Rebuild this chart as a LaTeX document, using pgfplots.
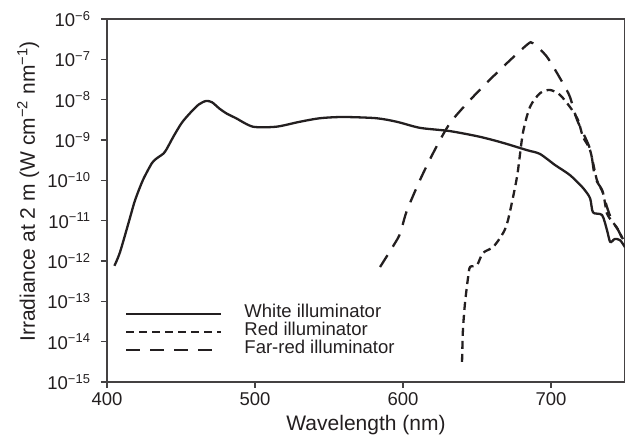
\documentclass[border=0pt]{standalone}
\usepackage{fontspec}
\setmainfont{Liberation Sans}
\usepackage{pgfplots}
\pgfplotsset{compat=1.18}
\definecolor{ink}{HTML}{231F20}

\begin{document}
\begin{tikzpicture}
\begin{axis}[
    at={(0pt,0pt)}, anchor=south west,
    scale only axis, width=518pt, height=363pt,
    xmin=400, xmax=750,
    ymode=log, ymin=1e-15, ymax=1e-6,
    xtick={400,500,600,700}, xticklabels={400,500,600,700},
    ytick={1e-15,1e-14,1e-13,1e-12,1e-11,1e-10,1e-9,1e-8,1e-7,1e-6},
    yticklabels={10\textsuperscript{−15},10\textsuperscript{−14},10\textsuperscript{−13},10\textsuperscript{−12},10\textsuperscript{−11},10\textsuperscript{−10},10\textsuperscript{−9},10\textsuperscript{−8},10\textsuperscript{−7},10\textsuperscript{−6}},
    yminorticks=false,
    tick align=outside, xtick pos=left, ytick pos=left,
    major tick length=6pt,
    axis line style={ink!85, line width=1.4pt},
    major tick style={ink!85, line width=1.2pt},
    tick label style={font=\fontsize{18.5}{18.5}\selectfont, text=ink},
    yticklabel style={xshift=-7pt},
    xticklabel style={yshift=-1.5pt},
    label style={font=\fontsize{21}{21}\selectfont, text=ink},
    xlabel={Wavelength (nm)},
    ylabel={Irradiance at 2 m (W cm\textsuperscript{−2} nm\textsuperscript{−1})},
    xlabel style={at={(axis description cs:0.5,-0.118)}, anchor=center},
    ylabel style={at={(axis description cs:-0.152,0.525)}, anchor=center},
    legend cell align=left,
    legend style={at={(rel axis cs:0.0347,0.138)}, anchor=west, draw=none, fill=none,
        inner sep=0pt, column sep=22pt, row sep=0pt,
        nodes={inner sep=0pt, text height=13pt, text depth=5pt,
            font=\fontsize{18.5}{18.5}\selectfont, text=ink}},
    legend image code/.code={\draw[#1] (0pt,0pt) -- (95pt,0pt);},
]
% white illuminator
\addplot[ink, line width=2.3pt, line join=round, smooth, tension=0.45] coordinates {
    (405,7.6e-13) (408.8,1.66e-12) (415.5,1.17e-11) (419,3.24e-11)
    (424.3,1.02e-10) (430.4,2.69e-10) (433.8,3.55e-10) (439,5.0e-10)
    (444.8,1.2e-9) (450.4,2.63e-9) (456,4.6e-9) (462,7.6e-9)
    (467,9.3e-9) (471,8.6e-9) (476,6.0e-9) (481,4.5e-9)
    (487,3.5e-9) (498.6,2.14e-9)
    (514.5,2.14e-9) (530,2.82e-9) (544,3.47e-9) (559.5,3.72e-9)
    (582,3.47e-9) (596,2.82e-9) (611.5,2.0e-9) (631.8,1.66e-9)
    (652,1.2e-9) (667.6,8.5e-10) (683.8,5.6e-10) (692.6,4.5e-10)
    (702.7,2.4e-10) (712.8,1.35e-10) (721.6,6.5e-11) (726.4,3.6e-11)
    (728.4,1.6e-11) (734.5,1.38e-11) (737.8,5.9e-12) (740,2.95e-12)
    (743,3.5e-12) (746.6,3.3e-12) (750,2.2e-12)
};
\addlegendentry{White illuminator}
% red illuminator
\addplot[ink, line width=2.3pt, dash pattern=on 8pt off 5pt, smooth, tension=0.45] coordinates {
    (639.9,3.16e-15) (640.5,1.95e-14) (641.9,9.1e-14) (644,4.0e-13)
    (645.3,7.1e-13) (650,7.9e-13) (654,1.58e-12) (661,2.24e-12)
    (667.6,4.9e-12) (671,1.05e-11) (677,1.2e-10) (681,1.48e-9)
    (685.8,6.6e-9) (692.6,1.45e-8) (699.3,1.74e-8) (706,1.32e-8)
    (712.8,6.6e-9) (718.2,3.16e-9) (721.6,1.2e-9) (726.4,5.6e-10)
    (731,1.02e-10) (735.2,4.8e-11) (737.8,1.5e-11) (741,1.0e-11)
    (745,6.3e-12) (748.6,3.5e-12)
};
\addlegendentry{Red illuminator}
% far-red illuminator
\addplot[ink, line width=2.3pt, dash pattern=on 14pt off 10pt, smooth, tension=0.45] coordinates {
    (584.5,7.1e-13) (596.6,3.7e-12) (599.3,6.9e-12) (602.7,1.8e-11)
    (611.5,1.02e-10) (620.3,4.7e-10) (631.8,2.63e-9) (647.3,1.17e-8)
    (665.5,5.5e-8) (683.8,2.3e-7) (687.8,2.5e-7) (697.3,1.15e-7)
    (708,2.57e-8) (712.8,1.17e-8) (717.6,3.16e-9) (726.4,6.0e-10)
    (729.7,1.2e-10) (734.5,5.75e-11) (737.8,2.19e-11) (741,1.05e-11)
    (745.3,5.9e-12) (748.6,3.3e-12)
};
\addlegendentry{Far-red illuminator}
\end{axis}
\pgfresetboundingbox
\useasboundingbox (-107pt,-62pt) rectangle (518pt,382pt);
\end{tikzpicture}
\end{document}
